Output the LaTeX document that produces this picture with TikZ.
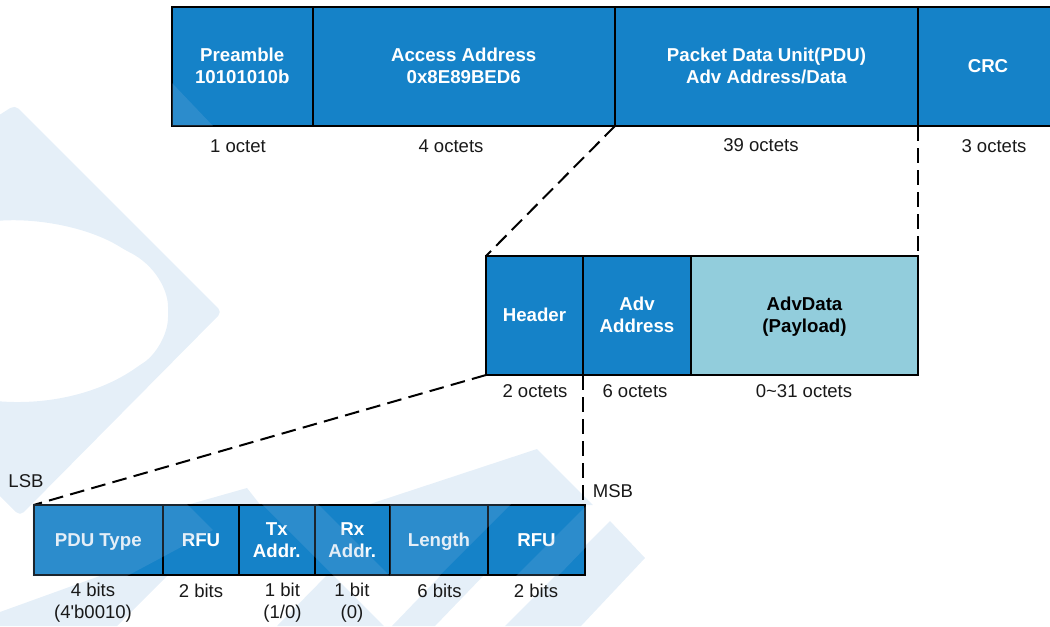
\documentclass[tikz,border=0pt]{standalone}
\usepackage{fontspec}
\setmainfont{Liberation Sans}
\definecolor{cellblue}{HTML}{1582C8}
\definecolor{cellpale}{HTML}{92CDDC}
\definecolor{wmbg}{HTML}{E5EFF8}
\definecolor{wmover}{RGB}{131,178,221}
\tikzset{
  cellbox/.style={draw=black,line width=1.5pt,fill=cellblue,text=white,font=\fontsize{14pt}{16.5pt}\selectfont\bfseries,align=center,inner sep=0pt,outer sep=0pt},
  palebox/.style={cellbox,fill=cellpale,text=black},
  sizelabel/.style={text=black!90,font=\fontsize{13.9pt}{16.5pt}\selectfont,align=center,inner sep=0pt,anchor=center},
  guide/.style={draw=black,line width=1.5pt,dash pattern=on 11pt off 5.5pt},
  bgmark/.style={fill=wmbg,rounded corners=4pt},
  overmark/.style={fill=wmover,opacity=0.21}
}
\newcommand{\cellat}[7][cellbox]{\node[#1,minimum width={(#4-#3)*0.75pt},minimum height={(#6-#5)*0.75pt},text depth=2pt] (#2) at ({(#3+#4)/2},{(#5+#6)/2}) {\strut #7\strut};}
\begin{document}
\begin{tikzpicture}[x=0.75pt,y=-0.75pt]
\useasboundingbox (0,0) rectangle (1050,626);
\clip (0,0) rectangle (1050,626);
% watermark behind the boxes
\fill[bgmark,even odd rule] (-40,140) -- (15,105) -- (222,312) -- (20,516) -- (-40,456) -- cycle
  (-5,221) .. controls (40,218) and (90,228) .. (125,250) .. controls (155,265) and (168,290) .. (168,312) .. controls (168,335) and (155,355) .. (140,365) .. controls (100,393) and (50,405) .. (-5,401) -- cycle;
\fill[wmbg] (0,612) -- (205,538) -- (117,626) -- (0,626) -- cycle;
\fill[wmbg] (187,505) -- (247,488) -- (262,507) -- cycle;
\fill[wmbg] (330,572) -- (384,626) -- (277,626) -- cycle;
\fill[wmbg] (367,505) -- (537,449) -- (593,505) -- cycle;
\fill[wmbg] (392,626) -- (444,572) -- (487,572) -- (435,626) -- cycle;
\fill[wmbg] (505,626) -- (610,521) -- (645,558) -- (581,626) -- cycle;
% packet
\cellat{preamble}{172}{312.5}{7}{126}{Preamble\\10101010b}
\cellat{access}{312.5}{615}{7}{126}{Access Address\\0x8E89BED6}
\cellat{pdu}{615}{918}{7}{126}{Packet Data Unit(PDU)\\Adv Address/Data}
\cellat{crc}{918}{1058}{7}{126}{CRC}
% PDU
\cellat{header}{486}{583}{256}{375}{Header}
\cellat{advaddr}{583}{691}{256}{375}{Adv\\Address}
\cellat[palebox]{payload}{691}{918}{256}{375}{AdvData\\(Payload)}
% Header
\cellat{ptype}{33.5}{163}{505}{575}{PDU Type}
\cellat{rfua}{163}{239}{505}{575}{RFU}
\cellat{txaddr}{239}{314.5}{505}{575}{Tx\\Addr.}
\cellat{rxaddr}{314.5}{390}{505}{575}{Rx\\Addr.}
\cellat{hlen}{390}{488}{505}{575}{Length}
\cellat{rfub}{488}{585}{505}{575}{RFU}
% connectors
\draw[guide] (pdu.south west) -- (header.north west);
\draw[guide] (crc.south west) -- (payload.north east);
\draw[guide] (header.south west) -- (ptype.north west);
\coordinate (msbtop) at (rfub.north east -| header.south east);
\draw[guide] (header.south east) -- (msbtop);
% labels
\node[sizelabel] (l1) at (238,146) {1 octet};
\node[sizelabel] (l2) at (451,146) {4 octets};
\node[sizelabel] (l3) at (761,145) {39 octets};
\node[sizelabel] (l4) at (994,146) {3 octets};
\node[sizelabel] (l5) at (535,391) {2 octets};
\node[sizelabel] (l6) at (635,391) {6 octets};
\node[sizelabel] (l7) at (804,391) {0\char`\~31 octets};
\node[sizelabel] (lsb) at (26,481) {LSB};
\node[sizelabel] (msb) at (613,491) {MSB};
\node[sizelabel] (b1) at (93,603) {4 bits\\(4\textquotesingle b0010)};
\node[sizelabel] (b2) at (201,591) {2 bits};
\node[sizelabel] (b3) at (282.5,603) {1 bit\\(1/0)};
\node[sizelabel] (b4) at (352,603) {1 bit\\(0)};
\node[sizelabel] (b5) at (439.5,591) {6 bits};
\node[sizelabel] (b6) at (536,591) {2 bits};
% watermark over the boxes
\fill[overmark] (172,83) -- (213,126) -- (172,126) -- cycle;
\fill[overmark] (32.5,504) -- (187,504) -- (213,530) -- (127,576) -- (32.5,576) -- cycle;
\fill[overmark] (262,504) -- (318,504) -- (390,576) -- (334,576) -- cycle;
\fill[overmark] (390,504) -- (511,504) -- (439,576) -- (390,576) -- cycle;
\fill[overmark] (586,506) -- (586,547) -- (558,576) -- (516,576) -- cycle;
\end{tikzpicture}
\end{document}
